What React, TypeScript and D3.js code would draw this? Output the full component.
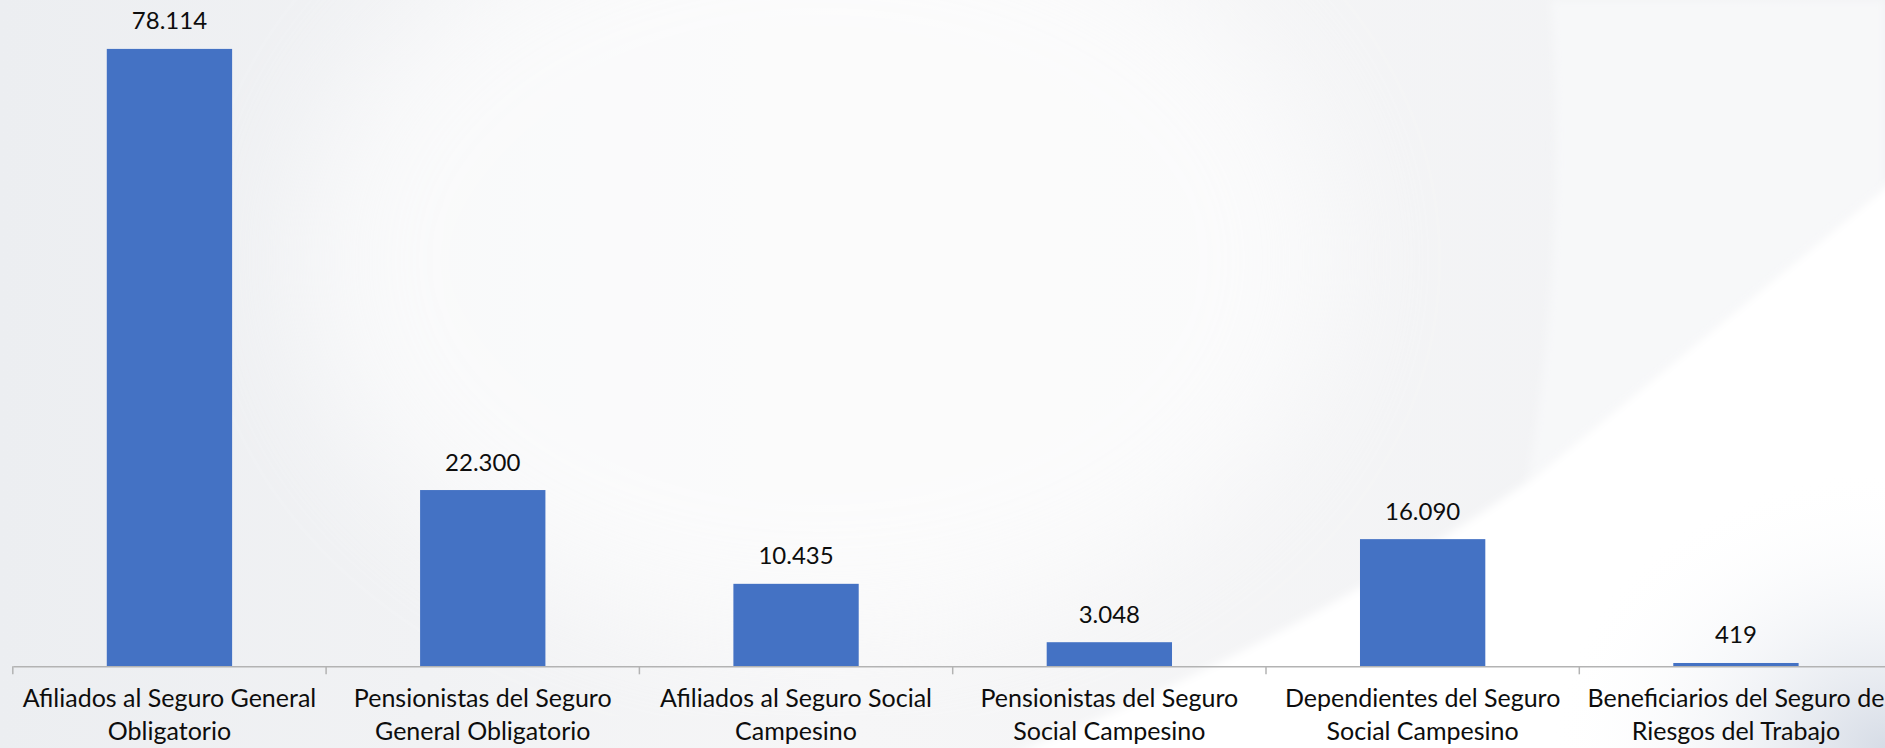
import React, { useEffect, useRef } from "react";
import * as d3 from "d3";

const categories = [
  "Afiliados al Seguro General Obligatorio",
  "Pensionistas del Seguro General Obligatorio",
  "Afiliados al Seguro Social Campesino",
  "Pensionistas del Seguro Social Campesino",
  "Dependientes del Seguro Social Campesino",
  "Beneficiarios del Seguro de Riesgos del Trabajo",
];
// how each category label wraps onto two lines
const categoryLines = [
  ["Afiliados al Seguro General", "Obligatorio"],
  ["Pensionistas del Seguro", "General Obligatorio"],
  ["Afiliados al Seguro Social", "Campesino"],
  ["Pensionistas del Seguro", "Social Campesino"],
  ["Dependientes del Seguro", "Social Campesino"],
  ["Beneficiarios del Seguro de", "Riesgos del Trabajo"],
];
const values = [78114, 22300, 10435, 3048, 16090, 419];

const W = 1885;
const H = 748;

const App: React.FC = () => {
  const svgRef = useRef<SVGSVGElement | null>(null);

  useEffect(() => {
    const svg = d3.select(svgRef.current).attr("width", W).attr("height", H);
    svg.selectAll("*").remove();

    const defs = svg.append("defs");
    const bg = defs
      .append("linearGradient")
      .attr("id", "bg")
      .attr("x1", 0)
      .attr("x2", 1)
      .attr("y1", 0)
      .attr("y2", 0);
    bg.append("stop").attr("offset", 0).attr("stop-color", "#eceef1");
    bg.append("stop").attr("offset", 0.45).attr("stop-color", "#f6f6f7");
    bg.append("stop").attr("offset", 1).attr("stop-color", "#f1f2f4");

    const corner = defs
      .append("radialGradient")
      .attr("id", "corner")
      .attr("cx", 1)
      .attr("cy", 1)
      .attr("r", 1);
    corner.append("stop").attr("offset", 0).attr("stop-color", "#d6dce6").attr("stop-opacity", 1);
    corner.append("stop").attr("offset", 1).attr("stop-color", "#ffffff").attr("stop-opacity", 0);

    defs.append("filter").attr("id", "blur").append("feGaussianBlur").attr("stdDeviation", 60);
    defs.append("filter").attr("id", "soft").append("feGaussianBlur").attr("stdDeviation", 4);

    // background
    svg.append("rect").attr("width", W).attr("height", H).attr("fill", "url(#bg)");
    svg
      .append("ellipse")
      .attr("cx", 820)
      .attr("cy", 260)
      .attr("rx", 520)
      .attr("ry", 380)
      .attr("fill", "#ffffff")
      .attr("opacity", 0.6)
      .attr("filter", "url(#blur)");
    // lighter area right of the curve
    svg
      .append("path")
      .attr("d", "M1551,0 Q1568,250 1527,482 L1885,186 L1885,0 Z")
      .attr("fill", "#f7f8f9")
      .attr("filter", "url(#soft)");
    // white wedge
    svg
      .append("path")
      .attr("d", "M1895,178 L1527,482 Q1300,640 1000,760 L1895,760 Z")
      .attr("fill", "#ffffff")
      .attr("filter", "url(#soft)");
    svg
      .append("rect")
      .attr("x", 1550)
      .attr("y", 470)
      .attr("width", 335)
      .attr("height", 278)
      .attr("fill", "url(#corner)");

    const x = d3
      .scaleBand<string>()
      .domain(categories)
      .range([12.8, 1892.6])
      .paddingInner(0)
      .paddingOuter(0);

    const y = d3.scaleLinear().domain([0, 80000]).range([666.3, 34]);

    const fmt = d3.formatLocale({
      decimal: ",",
      thousands: ".",
      grouping: [3],
      currency: ["$", ""],
    }).format(",d");

    const barW = x.bandwidth() * 0.4;

    const g = svg.append("g");

    g.selectAll("rect.bar")
      .data(values)
      .enter()
      .append("rect")
      .attr("class", "bar")
      .attr("x", (d, i) => (x(categories[i]) as number) + (x.bandwidth() - barW) / 2)
      .attr("y", (d) => y(d))
      .attr("width", barW)
      .attr("height", (d) => y(0) - y(d))
      .attr("fill", "#4472c4");

    // value labels
    g.selectAll("text.val")
      .data(values)
      .enter()
      .append("text")
      .attr("class", "val")
      .attr("x", (d, i) => (x(categories[i]) as number) + x.bandwidth() / 2)
      .attr("y", (d) => y(d) - 19.5)
      .attr("text-anchor", "middle")
      .attr("font-family", "Lato, 'Open Sans', sans-serif")
      .attr("font-size", 24)
      .attr("fill", "#0d0d0d")
      .text((d) => fmt(d));

    // x axis line + ticks at band boundaries
    const axis = d3
      .axisBottom(x)
      .tickSize(0)
      .tickFormat(() => "");
    const ax = svg.append("g").attr("transform", `translate(0,${y(0)})`).call(axis);
    ax.select(".domain").attr("stroke", "#b3b3b3").attr("stroke-width", 1.5);
    ax.selectAll(".tick").remove();

    const bounds = categories.map((c) => x(c) as number).concat([x.range()[1]]);
    ax.selectAll("line.tk")
      .data(bounds)
      .enter()
      .append("line")
      .attr("class", "tk")
      .attr("x1", (d) => d)
      .attr("x2", (d) => d)
      .attr("y1", 0)
      .attr("y2", 8)
      .attr("stroke", "#b3b3b3")
      .attr("stroke-width", 1.5);

    // category labels
    const lbl = svg
      .append("g")
      .selectAll("text.cat")
      .data(categories)
      .enter()
      .append("text")
      .attr("class", "cat")
      .attr("text-anchor", "middle")
      .attr("font-family", "Lato, 'Open Sans', sans-serif")
      .attr("font-size", 25)
      .attr("fill", "#0d0d0d");
    lbl
      .selectAll("tspan")
      .data((d, i) => categoryLines[i].map((t) => ({ t, cx: (x(d) as number) + x.bandwidth() / 2 })))
      .enter()
      .append("tspan")
      .attr("x", (d) => d.cx)
      .attr("y", (d, j) => 707 + j * 33)
      .text((d) => d.t);
  }, []);

  return (
    <div style={{ position: "absolute", left: 0, top: 0, width: W, height: H, overflow: "hidden" }}>
      <svg ref={svgRef} style={{ display: "block" }} />
    </div>
  );
};

export default App;
